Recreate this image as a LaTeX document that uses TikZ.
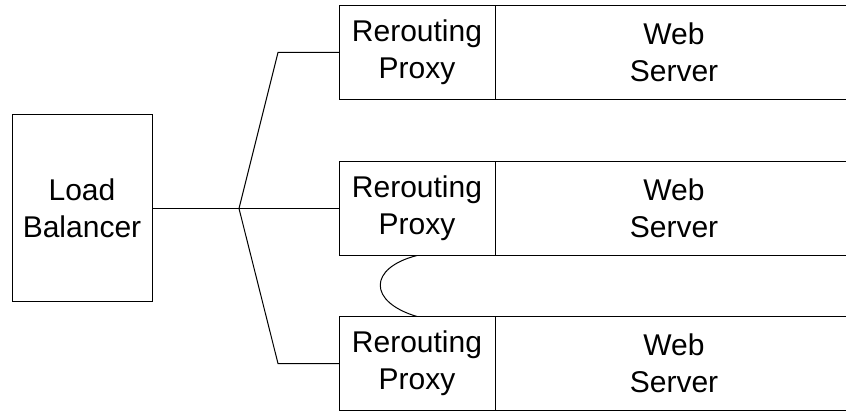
\documentclass[tikz,border=0pt]{standalone}
\usepackage{fontspec}
\setmainfont{Liberation Sans}
\usetikzlibrary{positioning}

\begin{document}
\begin{tikzpicture}[x=0.5pt,y=-0.5pt,font=\fontsize{15}{18.5}\selectfont,
  box/.style={draw,line width=0.5pt,inner sep=0pt,outer sep=0pt,align=center},
  proxy/.style={box,minimum width=78pt,minimum height=47pt},
  web/.style={box,minimum width=179pt,minimum height=47pt,anchor=west}]
\useasboundingbox (0,0) rectangle (846,411);
\clip (0,0) rectangle (846,411);
\node[box,minimum width=70pt,minimum height=93.5pt] (lb) at (82,208.5) {Load\\Balancer};
\node[proxy] (pr1) at (417,52.5) {Rerouting\\Proxy};
\node[proxy] (pr2) at (417,208.5) {Rerouting\\Proxy};
\node[proxy] (pr3) at (417,363.5) {Rerouting\\Proxy};
\node[web] (web1) at (pr1.east) {Web\\Server};
\node[web] (web2) at (pr2.east) {Web\\Server};
\node[web] (web3) at (pr3.east) {Web\\Server};
\coordinate (fork) at (239,208.5);
\coordinate (upbend) at (278,52.5);
\coordinate (lowbend) at (278,363.5);
\draw[line width=0.5pt] (lb.east) -- (fork) -- (pr2.west);
\draw[line width=0.5pt] (fork) -- (upbend) -- (pr1.west);
\draw[line width=0.5pt] (fork) -- (lowbend) -- (pr3.west);
\draw[line width=0.5pt] (pr2.south) .. controls (368,268) and (368,302) .. (pr3.north);
\end{tikzpicture}
\end{document}
